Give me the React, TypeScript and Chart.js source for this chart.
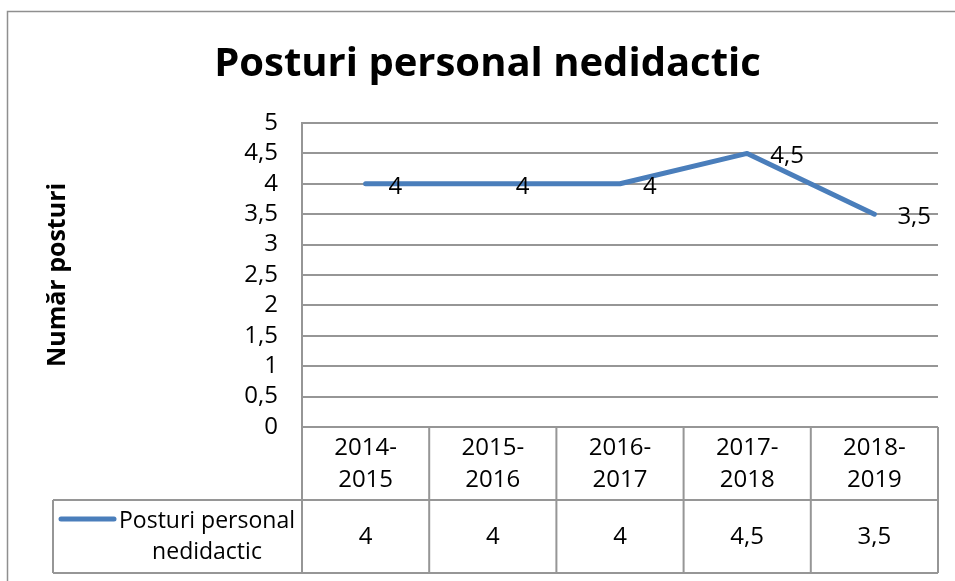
import React, { useEffect, useRef } from "react";
import { Chart, registerables } from "chart.js";

Chart.register(...registerables);

// ---- data ----
const chartTitle = "Posturi personal nedidactic";
const yAxisTitle = "Număr posturi";
const seriesName = "Posturi personal nedidactic";
const categories = ["2014-2015", "2015-2016", "2016-2017", "2017-2018", "2018-2019"];
const values = [4, 4, 4, 4.5, 3.5];
const yMin = 0;
const yMax = 5;
const yStep = 0.5;

// ---- styles ----
const FONT = "'Open Sans', 'Liberation Sans', sans-serif";
const LINE_COLOR = "#4a7ebb";
const GRID_COLOR = "#969696";
const TEXT_COLOR = "#000000";

const fmt = (v: number) => String(v).replace(".", ",");

const frame = {
  id: "frame",
  beforeDraw(chart: any) {
    const ctx = chart.ctx;
    ctx.save();
    ctx.strokeStyle = "#8f8f8f";
    ctx.lineWidth = 1.5;
    ctx.beginPath();
    ctx.moveTo(7.5, chart.height);
    ctx.lineTo(7.5, 11.5);
    ctx.lineTo(chart.width, 11.5);
    ctx.stroke();
    ctx.restore();
  },
};

const dataLabels = {
  id: "dataLabelsRight",
  afterDatasetsDraw(chart: any) {
    const ctx = chart.ctx;
    const meta = chart.getDatasetMeta(0);
    ctx.save();
    ctx.font = `24px ${FONT}`;
    ctx.fillStyle = TEXT_COLOR;
    ctx.textAlign = "left";
    ctx.textBaseline = "middle";
    meta.data.forEach((pt: any, i: number) => {
      ctx.fillText(fmt(values[i]), pt.x + 23, pt.y + 3);
    });
    ctx.restore();
  },
};

const dataTable = {
  id: "dataTable",
  afterDraw(chart: any) {
    const ctx = chart.ctx;
    const xs = chart.scales.x;
    const area = chart.chartArea;
    const step = xs.getPixelForValue(1) - xs.getPixelForValue(0);
    const bounds: number[] = [];
    for (let i = 0; i <= categories.length; i++) {
      bounds.push(xs.getPixelForValue(0) - step / 2 + i * step);
    }
    const xStart = bounds[0];
    const xEnd = bounds[bounds.length - 1];
    const top = area.bottom;
    const mid = top + 73;
    const bottom = top + 146;
    const legendLeft = 53;

    ctx.save();
    ctx.strokeStyle = GRID_COLOR;
    ctx.lineWidth = 2;
    ctx.beginPath();
    ctx.moveTo(xStart, top);
    ctx.lineTo(xEnd, top);
    ctx.moveTo(legendLeft, mid);
    ctx.lineTo(xEnd, mid);
    ctx.moveTo(legendLeft, bottom);
    ctx.lineTo(xEnd, bottom);
    bounds.forEach((b) => {
      ctx.moveTo(b, top);
      ctx.lineTo(b, bottom);
    });
    ctx.moveTo(legendLeft, mid);
    ctx.lineTo(legendLeft, bottom);
    ctx.stroke();

    // values row
    ctx.font = `24px ${FONT}`;
    ctx.fillStyle = TEXT_COLOR;
    ctx.textAlign = "center";
    ctx.textBaseline = "alphabetic";
    values.forEach((v, i) => {
      ctx.fillText(fmt(v), xs.getPixelForValue(i), bottom - 29);
    });

    // legend key
    ctx.strokeStyle = LINE_COLOR;
    ctx.lineWidth = 5;
    ctx.lineCap = "round";
    ctx.beginPath();
    ctx.moveTo(legendLeft + 8, mid + 19);
    ctx.lineTo(legendLeft + 61, mid + 19);
    ctx.stroke();

    ctx.font = `23px ${FONT}`;
    const cut = seriesName.lastIndexOf(" ");
    const lines = [seriesName.slice(0, cut), seriesName.slice(cut + 1)];
    ctx.fillText(lines[0], 207, mid + 28);
    ctx.fillText(lines[1], 207, mid + 59);
    ctx.restore();
  },
};

export default function App() {
  const ref = useRef<HTMLCanvasElement | null>(null);

  useEffect(() => {
    if (!ref.current) return;
    const chart = new Chart(ref.current, {
      type: "line",
      data: {
        labels: categories,
        datasets: [
          {
            label: seriesName,
            data: values,
            borderColor: LINE_COLOR,
            backgroundColor: LINE_COLOR,
            borderWidth: 5,
            borderCapStyle: "round",
            borderJoinStyle: "round",
            pointRadius: 0,
            pointHoverRadius: 0,
            tension: 0,
            fill: false,
          },
        ],
      },
      options: {
        responsive: false,
        animation: false,
        devicePixelRatio: 1,
        layout: { padding: { left: 37, right: 17, top: 0, bottom: 8 } },
        plugins: {
          legend: { display: false },
          tooltip: { enabled: false },
          title: {
            display: true,
            text: chartTitle,
            color: TEXT_COLOR,
            font: { family: FONT, size: 40, weight: "bold", lineHeight: 1.2 },
            padding: { top: 41, bottom: 34 },
          },
        },
        scales: {
          x: {
            type: "category",
            offset: true,
            grid: { display: false, drawTicks: false },
            border: { display: false },
            ticks: {
              color: TEXT_COLOR,
              font: { family: FONT, size: 24, lineHeight: 32 / 24 },
              padding: 5,
              maxRotation: 0,
              autoSkip: false,
              callback: (_v: any, i: number) => {
                const c = categories[i];
                const k = c.indexOf("-");
                return [c.slice(0, k + 1), c.slice(k + 1)];
              },
            },
            afterFit: (s: any) => {
              s.height = 146;
            },
          },
          y: {
            min: yMin,
            max: yMax,
            grid: { color: GRID_COLOR, lineWidth: 2, drawTicks: false },
            border: { display: true, color: GRID_COLOR, width: 2 },
            ticks: {
              stepSize: yStep,
              autoSkip: false,
              color: TEXT_COLOR,
              font: { family: FONT, size: 24 },
              padding: 24,
              callback: (v: any) => fmt(Number(v)),
            },
            title: {
              display: true,
              text: yAxisTitle,
              color: TEXT_COLOR,
              font: { family: FONT, size: 25, weight: "bold", lineHeight: 1.2 },
              padding: { top: 6, bottom: 0 },
            },
            afterFit: (s: any) => {
              s.width = 265;
            },
          },
        },
      },
      plugins: [frame, dataLabels, dataTable],
    } as any);
    return () => chart.destroy();
  }, []);

  return (
    <canvas
      ref={ref}
      width={955}
      height={581}
      style={{ position: "fixed", left: 0, top: 0, width: 955, height: 581, display: "block" }}
    />
  );
}
